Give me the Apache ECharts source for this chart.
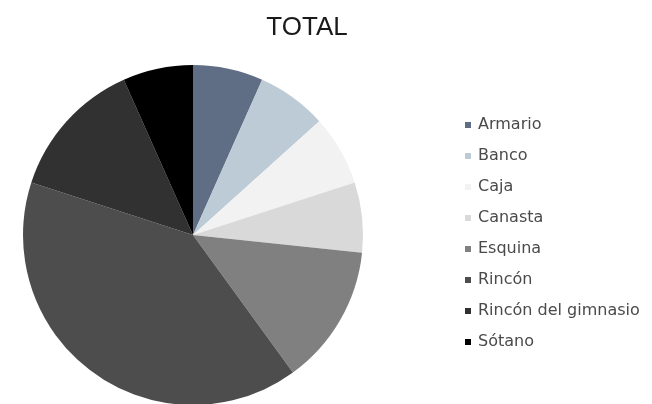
<!DOCTYPE html>
<html><head><meta charset="utf-8">
<script src="https://cdn.jsdelivr.net/npm/echarts@6/dist/echarts.min.js"></script>
<style>html,body{margin:0;padding:0;background:#fff}#c{width:652px;height:404px}</style>
</head><body><div id="c"></div>
<script>
const categories = ["Armario","Banco","Caja","Canasta","Esquina","Rincón","Rincón del gimnasio","Sótano"];
const values = [1,1,1,1,2,6,2,1];
const colors = ["#5f6e85","#bccbd6","#f2f2f2","#d9d9d9","#808080","#4d4d4d","#313131","#000000"];
const chart = echarts.init(document.getElementById('c'));
chart.setOption({
  animation:false,
  title:{text:"TOTAL",left:302,top:10,textAlign:'center',textStyle:{fontFamily:'Liberation Sans',fontSize:26,fontWeight:'normal',color:'#1a1a1a'}},
  legend:{orient:'vertical',left:460,top:112,itemWidth:6,itemHeight:6,itemGap:15,icon:'rect',
    textStyle:{fontFamily:'DejaVu Sans',fontSize:16,color:'#4a4a4a',padding:[0,0,0,2]},data:categories},
  series:[{type:'pie',center:[193,235],radius:170,startAngle:90,clockwise:true,
    label:{show:false},labelLine:{show:false},emphasis:{disabled:true},
    itemStyle:{borderWidth:0},
    data:categories.map((n,i)=>({name:n,value:values[i],itemStyle:{color:colors[i]}}))}]
});
</script></body></html>
